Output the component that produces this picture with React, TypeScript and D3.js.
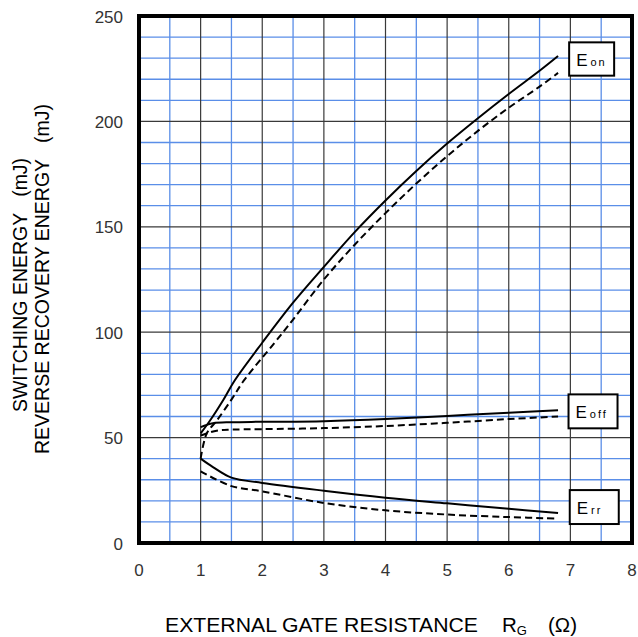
import React from "react";
import * as d3 from "d3";

const xTicks = [0, 1, 2, 3, 4, 5, 6, 7, 8];
const yTicks = [0, 50, 100, 150, 200, 250];

const eonSolid: [number, number][] = [[1.0,52],[1.15,58],[1.37,68],[1.55,77],[2.0,95],[2.5,114],[3.0,131],[3.5,147.5],[4.0,162.5],[4.5,176.5],[5.0,189.5],[5.5,201.5],[6.0,213],[6.5,224],[6.8,231]];
const eonDashed: [number, number][] = [[1.0,40],[1.1,52],[1.26,58],[1.5,68],[1.7,77],[2.2,95],[2.5,106],[3.0,125],[3.5,141.5],[4.0,156.5],[4.5,170.5],[5.0,183.5],[5.5,195.5],[6.0,206.5],[6.5,216.5],[6.8,223]];
const eoffSolid: [number, number][] = [[1.0,55],[1.2,56.8],[1.5,57.3],[2,57.5],[3,57.8],[4,58.8],[5,60.3],[6,61.8],[6.8,63]];
const eoffDashed: [number, number][] = [[1.0,51],[1.26,53.3],[1.5,53.8],[2,54],[3,54.5],[4,55.5],[5,57],[6,58.8],[6.8,60]];
const errSolid: [number, number][] = [[1.0,40],[1.2,36],[1.5,31],[2,28.5],[3,24.8],[4,21.5],[5,18.8],[6,16.2],[6.8,14.2]];
const errDashed: [number, number][] = [[1.0,34],[1.5,27],[2,24.5],[3,19],[4,15.5],[5,13.5],[6,12.3],[6.8,11.6]];

const labels = [
  { main: "E", sub: "on", x: 6.98, top: 237.5, bottom: 221.7 },
  { main: "E", sub: "off", x: 6.97, top: 70.5, bottom: 54.4 },
  { main: "E", sub: "rr", x: 6.99, top: 25.1, bottom: 9.0 },
];

export default function App() {
  const W = 638, H = 637;
  const x = d3.scaleLinear().domain([0, 8]).range([139, 632]);
  const y = d3.scaleLinear().domain([0, 250]).range([543, 16]);
  const line = d3.line<[number, number]>().x(d => x(d[0])).y(d => y(d[1])).curve(d3.curveCatmullRom.alpha(0.5));
  const minorX = d3.range(0.5, 8, 1);
  const minorY = d3.range(10, 250, 10).filter(v => v % 50 !== 0);
  const majorX = d3.range(1, 8, 1);
  const majorY = d3.range(50, 250, 50);
  const font = "'Liberation Sans', Arial, sans-serif";
  const series = [
    { d: eonSolid, dash: null }, { d: eonDashed, dash: "7,4" },
    { d: eoffSolid, dash: null }, { d: eoffDashed, dash: "7,4" },
    { d: errSolid, dash: null }, { d: errDashed, dash: "7,4" },
  ];
  return (
    <svg width={W} height={H} style={{ position: "absolute", left: 0, top: 0, background: "#fff" }} fontFamily={font}>
      <rect x={0} y={0} width={W} height={H} fill="#fff" />
      {minorX.map(v => <line key={"mx" + v} x1={x(v)} x2={x(v)} y1={y(0)} y2={y(250)} stroke="#5a8ee8" strokeWidth={1.3} />)}
      {minorY.map(v => <line key={"my" + v} x1={x(0)} x2={x(8)} y1={y(v)} y2={y(v)} stroke="#5a8ee8" strokeWidth={1.3} />)}
      {majorX.map(v => <line key={"Mx" + v} x1={x(v)} x2={x(v)} y1={y(0)} y2={y(250)} stroke="#3a3a3a" strokeWidth={1.2} />)}
      {majorY.map(v => <line key={"My" + v} x1={x(0)} x2={x(8)} y1={y(v)} y2={y(v)} stroke="#3a3a3a" strokeWidth={1.2} />)}
      <rect x={x(0)} y={y(250)} width={x(8) - x(0)} height={y(0) - y(250)} fill="none" stroke="#000" strokeWidth={4} />
      {series.map((s, i) => (
        <path key={i} d={line(s.d) || ""} fill="none" stroke="#000" strokeWidth={2} strokeDasharray={s.dash || undefined} />
      ))}
      {labels.map((l, i) => (
        <g key={i}>
          <rect x={x(l.x)} y={y(l.top)} width={l.sub === "on" ? 45 : 49} height={y(l.bottom) - y(l.top)} fill="#fff" stroke="#000" strokeWidth={2} />
          <text x={x(l.x) + 7} y={y(l.bottom) - 10} fontSize={17} fill="#000">
            {l.main}
            <tspan fontSize={11} dx={3} letterSpacing={2}>{l.sub}</tspan>
          </text>
        </g>
      ))}
      {xTicks.map(v => (
        <text key={"xt" + v} x={x(v)} y={576} fontSize={17} textAnchor="middle" fill="#333">{v}</text>
      ))}
      {yTicks.map(v => (
        <text key={"yt" + v} x={123} y={y(v) + 6.5} fontSize={17} textAnchor="end" fill="#333">{v}</text>
      ))}
      <text transform="translate(27,285) rotate(-90)" fontSize={19.5} textAnchor="middle" fill="#000" xmlSpace="preserve">{"SWITCHING ENERGY   (mJ)"}</text>
      <text transform="translate(49,279) rotate(-90)" fontSize={19.5} textAnchor="middle" fill="#000" xmlSpace="preserve">{"REVERSE RECOVERY ENERGY   (mJ)"}</text>
      <text y={632} fontSize={20.5} fill="#000">
        <tspan x={165} textLength={313} lengthAdjust="spacingAndGlyphs">EXTERNAL GATE RESISTANCE</tspan>
        <tspan x={502}>R</tspan>
        <tspan fontSize={13} dy={3}>G</tspan>
        <tspan x={548} dy={-3}>(Ω)</tspan>
      </text>
    </svg>
  );
}
